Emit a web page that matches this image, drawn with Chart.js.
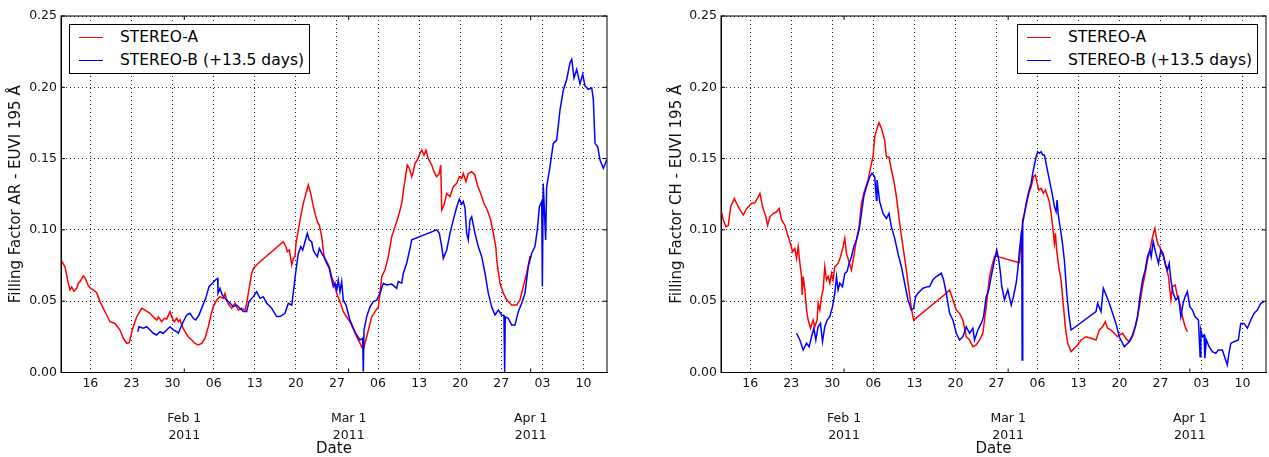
<!DOCTYPE html>
<html>
<head>
<meta charset="utf-8">
<script src="https://cdn.jsdelivr.net/npm/chart.js@4.4.1/dist/chart.umd.min.js"></script>
<style>
  body { margin: 0; background: #fff; width: 1269px; height: 457px; overflow: hidden; position: relative; font-family: 'DejaVu Sans', sans-serif; }
  .panel { position: absolute; top: 0; }
  canvas { display: block; }
  .legend { position: absolute; top: 24px; width: 241px; height: 50px; box-sizing: border-box; border: 1px solid #000; background: #fff; }
  .legend .row { position: absolute; left: 0; height: 20px; width: 100%; }
  .legend .sample { position: absolute; left: 9px; top: 10px; width: 24px; height: 0; border-top: 1.5px solid; }
  .legend .txt { position: absolute; left: 50px; top: 0; line-height: 20px; font-size: 15.5px; white-space: nowrap; color: #000; }
</style>
</head>
<body>
<div class="panel" style="left:0"><canvas id="arChart" width="634" height="457"></canvas></div>
<div class="panel" style="left:634px"><canvas id="chChart" width="635" height="457"></canvas></div>
<script>
// x = days since 2011-01-01 (Jan 1 = 0), y = filling factor
const xMin = 10, xMax = 103;

// weekly ticks (Sundays) and month starts
const weekDays = [15, 22, 29, 36, 43, 50, 57, 64, 71, 78, 85, 92, 99];
const weekLabels = ['16', '23', '30', '06', '13', '20', '27', '06', '13', '20', '27', '03', '10'];
const monthDays = [31, 59, 90];
const monthLabels = ['Feb 1', 'Mar 1', 'Apr 1'];
const yearLabel = '2011';
const yTicks = [0, 0.05, 0.10, 0.15, 0.20, 0.25];

const seriesNames = ['STEREO-A', 'STEREO-B (+13.5 days)'];

// Active regions, STEREO-A
const arStereoA = [
  [10.00,0.079],[10.68,0.074],[11.24,0.0626],[11.53,0.058],[11.82,0.060],[12.21,0.057],[12.67,0.059],[12.95,0.0626],
  [13.24,0.0637],[13.80,0.0677],[14.09,0.0665],[14.65,0.061],[15.06,0.059],[15.50,0.058],[16.08,0.056],[16.64,0.0497],
  [17.20,0.045],[17.78,0.0403],[18.35,0.0356],[19.20,0.0344],[20.05,0.0298],[20.61,0.024],[21.19,0.0205],[21.63,0.021],
  [22.14,0.0298],[22.89,0.0391],[23.75,0.045],[24.31,0.0438],[25.16,0.0415],[25.72,0.039],[26.30,0.0368],[26.57,0.039],
  [27.15,0.0356],[27.59,0.038],[28.00,0.0375],[28.57,0.0427],[28.86,0.039],[29.30,0.0356],[29.71,0.038],[29.98,0.0356],
  [30.27,0.037],[30.66,0.0321],[31.12,0.0286],[31.68,0.0251],[32.26,0.0228],[32.82,0.0204],[33.39,0.0193],[33.97,0.0204],
  [34.53,0.024],[35.09,0.0321],[35.55,0.0403],[35.94,0.0462],[36.52,0.0508],[37.08,0.0532],[37.65,0.052],[37.93,0.0555],
  [38.22,0.0508],[38.62,0.0473],[39.07,0.045],[39.64,0.0485],[40.20,0.0438],[40.78,0.045],[41.34,0.0438],[41.63,0.0485],
  [41.90,0.0555],[42.19,0.0625],[42.48,0.0695],[42.76,0.073],[43.61,0.0766],
  [47.86,0.0917],[48.32,0.0882],[48.55,0.0847],[48.89,0.0859],[49.13,0.080],[49.30,0.0754],[49.57,0.080],[49.86,0.0812],
  [50.03,0.0906],[50.42,0.100],[50.83,0.1093],[51.27,0.1186],[51.73,0.1256],[52.12,0.1315],[52.53,0.1256],[52.87,0.1186],
  [53.26,0.1116],[53.66,0.1058],[54.00,0.1034],[54.41,0.0952],[54.80,0.0812],[55.26,0.0777],[55.70,0.0742],[56.11,0.0672],
  [56.50,0.0626],[56.96,0.0555],[57.40,0.0509],[57.81,0.0462],[58.08,0.0427],[59.22,0.0356],
  [60.36,0.0251],[61.22,0.018],[61.49,0.0163],[62.07,0.0251],[62.92,0.039],[63.49,0.0427],[64.05,0.046],[64.34,0.0556],
  [64.63,0.0673],[65.19,0.072],[65.75,0.0812],[66.33,0.0952],[66.89,0.1022],[67.45,0.1092],[68.03,0.1185],[68.42,0.1303],
  [68.76,0.1396],[68.98,0.1455],[69.33,0.1432],[69.74,0.1373],[70.01,0.1408],[70.30,0.1467],[70.69,0.149],[71.03,0.1525],
  [71.44,0.156],[71.83,0.1525],[72.17,0.156],[72.56,0.150],[73.14,0.1455],[73.53,0.1408],[73.99,0.1373],[74.44,0.1396],
  [74.68,0.1455],[74.85,0.114],[75.24,0.1175],[75.70,0.1256],[76.26,0.1233],[76.82,0.1303],[77.40,0.1326],[77.84,0.1373],
  [78.25,0.1361],[78.52,0.1396],[78.98,0.1338],[79.37,0.1396],[79.95,0.1408],[80.51,0.1385],[80.91,0.1315],[81.49,0.1256],
  [82.05,0.1185],[82.61,0.114],[83.19,0.1069],[83.75,0.0952],[84.09,0.087],[84.21,0.079],[84.77,0.0626],
  [85.34,0.0556],[85.91,0.051],[86.77,0.0473],[87.62,0.0473],[88.18,0.051],[88.74,0.0603],[89.32,0.0696],[89.88,0.0812],
  [90.17,0.0812]
];

// Active regions, STEREO-B shifted by +13.5 days
const arStereoB = [
  [23.06,0.0286],[23.29,0.0321],[24.02,0.031],[24.60,0.0321],[25.16,0.0298],[25.72,0.0275],[26.30,0.0263],[26.86,0.0286],
  [27.42,0.0275],[28.00,0.0298],[28.57,0.0321],[29.13,0.0298],[29.71,0.0286],[29.98,0.0275],[30.44,0.0321],[30.83,0.0356],
  [31.41,0.0403],[31.97,0.0415],[32.53,0.038],[32.94,0.0368],[33.51,0.0403],[34.07,0.0462],[34.65,0.052],[35.21,0.0602],
  [35.77,0.0626],[36.35,0.065],[36.69,0.066],[36.74,0.0555],[37.08,0.059],[37.47,0.0543],[37.93,0.052],[38.79,0.0485],
  [39.35,0.0462],[39.93,0.0473],[40.49,0.045],[41.05,0.0427],[41.63,0.0427],[42.02,0.0497],[42.76,0.0532],[43.33,0.0567],
  [43.89,0.052],[44.46,0.0532],[45.04,0.0485],[45.89,0.045],[46.74,0.0392],[47.30,0.0392],[48.15,0.0415],[48.72,0.0485],
  [49.30,0.0473],[49.69,0.0602],[50.03,0.0719],[50.42,0.0835],[50.83,0.0882],[51.17,0.0859],[51.56,0.0917],[51.95,0.0976],
  [52.29,0.0929],[52.70,0.0917],[52.97,0.0859],[53.26,0.0835],[53.66,0.0812],[54.00,0.087],[54.41,0.0835],[54.80,0.0812],
  [55.26,0.0765],[55.70,0.073],[56.11,0.0649],[56.38,0.0602],[56.67,0.0626],[56.96,0.0579],[57.23,0.0649],[57.52,0.0567],
  [57.81,0.0637],[58.08,0.0509],[58.54,0.0473],[59.22,0.0368],
  [59.80,0.031],[60.36,0.0263],[60.92,0.0228],[61.39,0.024],[61.49,0.0005],[61.61,0.0298],[62.07,0.0392],[62.63,0.046],
  [63.20,0.0497],[63.77,0.0508],[64.34,0.0556],[64.90,0.0626],[65.47,0.0614],[66.33,0.062],[67.18,0.059],[67.45,0.0637],
  [68.03,0.0626],[68.31,0.0696],[68.88,0.0766],[69.45,0.0871],[69.74,0.093],
  [73.99,0.100],[74.44,0.0976],[74.85,0.0883],[75.12,0.0801],[75.70,0.0859],[76.26,0.0976],[76.82,0.107],[77.40,0.116],
  [77.84,0.1215],[78.25,0.118],[78.52,0.120],[78.81,0.1155],[79.10,0.0976],[79.37,0.093],[79.66,0.107],[79.95,0.1092],
  [80.51,0.0976],[81.08,0.0883],[81.66,0.0812],[82.22,0.0696],[82.78,0.0556],[83.36,0.046],[83.92,0.0403],[84.49,0.0438],
  [85.06,0.0403],[85.45,0.040],[85.57,0.000],[85.67,0.039],[86.19,0.038],[86.77,0.0333],[87.33,0.0333],[87.89,0.0427],
  [88.47,0.0485],[89.03,0.0556],[89.59,0.0743],[90.17,0.0836],[90.73,0.0883],[91.13,0.100],[91.47,0.116],[91.88,0.120],
  [91.99,0.0603],[92.14,0.1325],[92.55,0.093],[92.72,0.130],[93.29,0.1443],[93.85,0.1607],[94.43,0.163],[94.99,0.184],
  [95.56,0.198],[96.13,0.2055],[96.70,0.2173],[96.99,0.2197],[97.38,0.2065],[97.84,0.2126],[98.40,0.2023],[98.86,0.2092],
  [99.25,0.201],[99.82,0.1986],[100.40,0.1995],[100.67,0.1916],[100.96,0.1607],[101.42,0.1583],[101.81,0.149],[102.37,0.1432],
  [102.95,0.149]
];

// Coronal holes, STEREO-A
const chStereoA = [
  [10.00,0.114],[10.39,0.107],[10.85,0.1022],[11.24,0.103],[11.65,0.1162],[12.27,0.122],[12.67,0.1185],[13.24,0.114],
  [13.80,0.1104],[14.38,0.115],[15.23,0.1185],[15.79,0.119],[16.18,0.122],[16.64,0.1255],[17.10,0.1162],[17.66,0.1092],
  [17.95,0.1033],[18.35,0.1092],[18.91,0.1115],[19.49,0.1127],[19.93,0.115],[20.34,0.107],[20.90,0.1033],[21.46,0.0953],
  [21.75,0.0917],[22.21,0.0847],[22.60,0.087],[22.89,0.080],[23.17,0.0882],[23.46,0.0765],[23.75,0.0672],[23.85,0.0544],
  [24.02,0.0672],[24.31,0.0579],[24.60,0.0438],[24.87,0.0368],[25.28,0.031],[25.72,0.0368],[26.01,0.0321],[26.40,0.0368],
  [26.57,0.0485],[26.86,0.0438],[27.15,0.0532],[27.42,0.0579],[27.71,0.0742],[28.00,0.0649],[28.28,0.0672],[28.57,0.0626],
  [28.86,0.0695],[29.13,0.0649],[29.42,0.0742],[29.98,0.0765],[30.39,0.0812],[30.83,0.0882],[31.12,0.0941],[31.41,0.0835],
  [31.85,0.0777],[32.26,0.0719],[32.65,0.0812],[33.11,0.0929],[33.56,0.1022],[33.97,0.1186],[34.36,0.1256],[34.82,0.1315],
  [35.09,0.135],[35.50,0.1432],[35.94,0.1513],[36.23,0.1653],[36.62,0.1712],[36.96,0.1752],[37.37,0.1712],[37.93,0.163],
  [38.22,0.1513],[38.67,0.151],[39.07,0.142],[39.47,0.135],[39.93,0.1233],[40.49,0.1046],[41.05,0.0882],[41.63,0.0719],
  [42.07,0.0579],[42.48,0.045],[42.87,0.0368],
  [48.44,0.0556],[49.01,0.058],[49.57,0.051],[50.15,0.0438],[50.71,0.0415],[51.27,0.0368],[51.85,0.0251],[52.41,0.0228],
  [52.98,0.0181],[53.55,0.0193],[54.12,0.0228],[54.68,0.0275],[55.26,0.0462],[55.82,0.0670],[56.28,0.0754],[56.67,0.0812],
  [56.96,0.0824],[57.23,0.0812],
  [60.93,0.0770],[61.22,0.0952],[61.49,0.107],[61.78,0.1116],[62.17,0.1186],[62.51,0.1256],[62.92,0.1303],[63.31,0.1373],
  [63.65,0.1385],[63.88,0.1338],[64.22,0.128],[64.63,0.1291],[65.02,0.1256],[65.36,0.128],[65.75,0.1233],[66.04,0.1198],
  [66.33,0.1116],[66.60,0.1022],[66.89,0.0906],[67.06,0.0976],[67.28,0.0859],[67.62,0.0742],[68.03,0.0649],[68.40,0.048],
  [68.75,0.032],[69.16,0.0204],[69.74,0.0146],[70.30,0.017],[70.86,0.0193],[71.44,0.0228],
  [72.29,0.0251],[73.14,0.024],[73.99,0.0228],[74.56,0.0298],[75.12,0.0321],[75.58,0.0356],[75.97,0.031],[76.55,0.0298],
  [77.11,0.0275],[77.67,0.0251],[77.96,0.0263],[78.52,0.0275],[79.10,0.0239],[79.66,0.0216],[80.22,0.0251],[80.69,0.0321],
  [81.08,0.0391],[81.49,0.0485],[81.93,0.0602],[82.39,0.0696],[82.78,0.0789],[83.19,0.0859],[83.53,0.0929],[83.80,0.0976],
  [84.04,0.1011],[84.31,0.0941],[84.60,0.0894],[84.89,0.0882],[85.17,0.0835],[85.51,0.0812],[85.91,0.0742],[86.36,0.0672],
  [86.77,0.0509],[87.04,0.0602],[87.50,0.0614],[87.89,0.0532],[88.30,0.0485],[88.74,0.0391],[89.20,0.0321],[89.59,0.0286]
];

// Coronal holes, STEREO-B shifted by +13.5 days
const chStereoB = [
  [22.89,0.0275],[23.46,0.0228],[24.02,0.0158],[24.60,0.0205],[25.04,0.0181],[25.45,0.0251],[25.84,0.031],[26.18,0.0228],
  [26.57,0.0321],[26.98,0.0345],[27.32,0.0216],[27.71,0.0321],[28.11,0.0368],[28.57,0.0391],[29.03,0.0462],[29.42,0.0556],
  [29.71,0.0672],[29.98,0.0579],[30.27,0.0626],[30.73,0.0602],[31.12,0.0695],[31.51,0.0707],[31.85,0.0765],[32.26,0.0812],
  [32.65,0.0882],[33.11,0.0929],[33.56,0.0999],[33.97,0.1116],[34.36,0.1233],[34.82,0.1303],[35.38,0.1372],[35.77,0.1397],
  [36.23,0.1372],[36.52,0.1208],[36.62,0.135],[37.08,0.1198],[37.64,0.1116],[38.22,0.108],[38.67,0.1116],[39.07,0.1022],
  [39.64,0.0941],[40.20,0.0835],[40.78,0.0742],[41.34,0.0626],[41.90,0.0509],[42.48,0.0438],[42.87,0.045],[43.21,0.0532],
  [43.61,0.0556],[44.46,0.0591],[45.31,0.0602],[45.60,0.0603],[46.16,0.065],[46.74,0.0673],[47.59,0.0696],[47.98,0.065],
  [48.44,0.0556],[49.01,0.0415],[49.57,0.0368],[50.15,0.0275],[50.71,0.0228],[51.27,0.0251],[51.85,0.0321],[52.41,0.0275],
  [52.98,0.031],[53.26,0.0228],[53.83,0.0298],[54.40,0.0344],[54.80,0.039],[55.26,0.0533],[55.70,0.058],[56.11,0.0673],
  [56.67,0.0789],[57.06,0.0859],[57.40,0.0789],[57.69,0.0696],[57.91,0.0603],[58.37,0.051],[58.94,0.058],[59.52,0.0473],
  [59.91,0.0533],[60.37,0.0626],[60.64,0.072],[60.93,0.0859],[61.32,0.100],[61.39,0.0087],[61.49,0.1045],[62.07,0.1186],
  [62.51,0.1268],[62.92,0.1326],[63.19,0.1396],[63.48,0.1455],[63.77,0.1513],[64.05,0.1548],[64.34,0.1537],[64.63,0.1548],
  [64.90,0.1525],[65.19,0.1525],[65.58,0.1443],[66.04,0.1349],[66.50,0.1256],[66.89,0.1163],[67.18,0.1128],[67.35,0.121],
  [67.52,0.1116],[67.86,0.1022],[68.20,0.0929],[68.59,0.0789],[69.00,0.0556],[69.40,0.0392],[69.74,0.0298],
  [73.99,0.0427],[74.27,0.0485],[74.85,0.0427],[75.24,0.0591],[75.70,0.0545],[76.26,0.0485],[76.82,0.0415],[77.40,0.0344],
  [77.96,0.025],[78.81,0.0181],[79.66,0.0216],[80.22,0.0263],[80.69,0.0321],[81.08,0.0391],[81.49,0.0532],[81.93,0.0649],
  [82.39,0.0719],[82.78,0.0812],[83.19,0.0859],[83.41,0.0812],[83.75,0.0917],[84.21,0.0835],[84.65,0.0765],[85.06,0.0859],
  [85.45,0.0835],[85.79,0.0765],[86.19,0.0719],[86.48,0.0765],[86.77,0.0649],[87.16,0.0555],[87.62,0.0509],[88.06,0.0532],
  [88.47,0.0391],[88.86,0.0485],[89.20,0.0532],[89.59,0.0567],[90.00,0.0462],[90.45,0.0438],[90.91,0.0391],[91.47,0.0368],
  [91.76,0.0111],[91.88,0.0298],[92.15,0.0251],[92.44,0.0263],[92.56,0.010],[92.83,0.0228],[93.29,0.0181],[93.86,0.0146],
  [94.43,0.0134],[94.87,0.0158],[95.55,0.0158],[96.12,0.0087],[96.39,0.0053],[96.68,0.0134],[96.99,0.0204],[97.55,0.0216],
  [98.28,0.0228],[98.69,0.0344],[99.25,0.0344],[99.82,0.031],[100.40,0.0368],[100.96,0.0415],[101.52,0.0438],[102.10,0.0485],
  [102.66,0.0497]
];

const fontFamily = "'DejaVu Sans', sans-serif";
Chart.defaults.font.family = fontFamily;
Chart.defaults.color = '#000';

const gridColor = 'rgba(0,0,0,0.85)';
const allTickDays = weekDays.concat(monthDays).sort((a, b) => a - b);

function tickLabel(v) {
  const w = weekDays.indexOf(v);
  if (w >= 0) return weekLabels[w];
  const m = monthDays.indexOf(v);
  return ['', '', monthLabels[m], yearLabel];
}

// frame around the plot and the small inward ticks matplotlib puts on every side
const frameTicks = {
  id: 'frameTicks',
  afterDatasetsDraw(chart) {
    const { ctx, chartArea: a, scales: { x, y } } = chart;
    ctx.save();
    ctx.strokeStyle = '#000';
    ctx.lineWidth = 1;
    ctx.beginPath();
    monthDays.forEach(d => {
      const px = x.getPixelForValue(d);
      ctx.moveTo(px, a.bottom); ctx.lineTo(px, a.bottom - 4);
      ctx.moveTo(px, a.top); ctx.lineTo(px, a.top + 4);
    });
    yTicks.forEach(v => {
      const py = y.getPixelForValue(v);
      ctx.moveTo(a.left, py); ctx.lineTo(a.left + 4, py);
      ctx.moveTo(a.right, py); ctx.lineTo(a.right - 4, py);
    });
    ctx.stroke();
    ctx.strokeRect(a.left, a.top, a.right - a.left, a.bottom - a.top);
    ctx.restore();
  }
};

function makeChart(id, yTitle, seriesA, seriesB, geom) {
  return new Chart(document.getElementById(id), {
    type: 'line',
    data: {
      datasets: [
        { label: seriesNames[0], data: seriesA.map(p => ({ x: p[0], y: p[1] })), borderColor: '#ff0000',
          borderWidth: 1.5, pointRadius: 0, tension: 0, order: 1 },
        { label: seriesNames[1], data: seriesB.map(p => ({ x: p[0], y: p[1] })), borderColor: '#0000ff',
          borderWidth: 1.5, pointRadius: 0, tension: 0, order: 0 }
      ]
    },
    options: {
      responsive: false,
      animation: false,
      layout: { padding: { left: 0, top: 16, right: geom.padRight, bottom: 0 } },
      plugins: { legend: { display: false }, tooltip: { enabled: false } },
      scales: {
        x: {
          type: 'linear', min: xMin, max: xMax,
          afterBuildTicks: s => { s.ticks = allTickDays.map(v => ({ value: v })); },
          afterFit: s => { s.height = 84.5; },
          ticks: { autoSkip: false, maxRotation: 0, padding: 2, color: '#111',
                   font: { size: 12.5, lineHeight: 1.4 }, callback: v => tickLabel(v) },
          grid: { drawTicks: false, color: c => (monthDays.includes(c.tick && c.tick.value) ? 'rgba(0,0,0,0)' : gridColor) },
          border: { display: true, color: '#000', dash: [1, 3] },
          title: { display: true, text: 'Date', color: '#111', font: { size: 15, lineHeight: 1.0 }, padding: { top: 0, bottom: 0 } }
        },
        y: {
          min: 0, max: 0.25,
          afterBuildTicks: s => { s.ticks = yTicks.map(v => ({ value: v })); },
          afterFit: s => { s.width = geom.yWidth; },
          ticks: { padding: 4, color: '#111', font: { size: 12.5 }, callback: v => v.toFixed(2) },
          grid: { drawTicks: false, color: gridColor },
          border: { display: true, color: '#000', dash: [1, 3] },
          title: { display: true, text: yTitle, color: '#111', font: { size: 15, lineHeight: 1.2 },
                   padding: { top: geom.titlePad, bottom: 0 } }
        }
      }
    },
    plugins: [frameTicks]
  });
}

function addLegend(chart, left) {
  const box = document.createElement('div');
  box.className = 'legend';
  box.style.left = left + 'px';
  chart.data.datasets.forEach((ds, i) => {
    const row = document.createElement('div');
    row.className = 'row';
    row.style.top = (2 + i * 22.6) + 'px';
    const sample = document.createElement('span');
    sample.className = 'sample';
    sample.style.borderTopColor = ds.borderColor;
    const txt = document.createElement('span');
    txt.className = 'txt';
    txt.textContent = ds.label;
    row.appendChild(sample);
    row.appendChild(txt);
    box.appendChild(row);
  });
  document.body.appendChild(box);
}

const arChart = makeChart('arChart', 'Filling Factor AR - EUVI 195 Å', arStereoA, arStereoB,
  { yWidth: 61, padRight: 27, titlePad: 7 });
const chChart = makeChart('chChart', 'Filling Factor CH - EUVI 195 Å', chStereoA, chStereoB,
  { yWidth: 87, padRight: 3, titlePad: 33.7 });

addLegend(arChart, 69);
addLegend(chChart, 1017);
</script>
</body>
</html>
